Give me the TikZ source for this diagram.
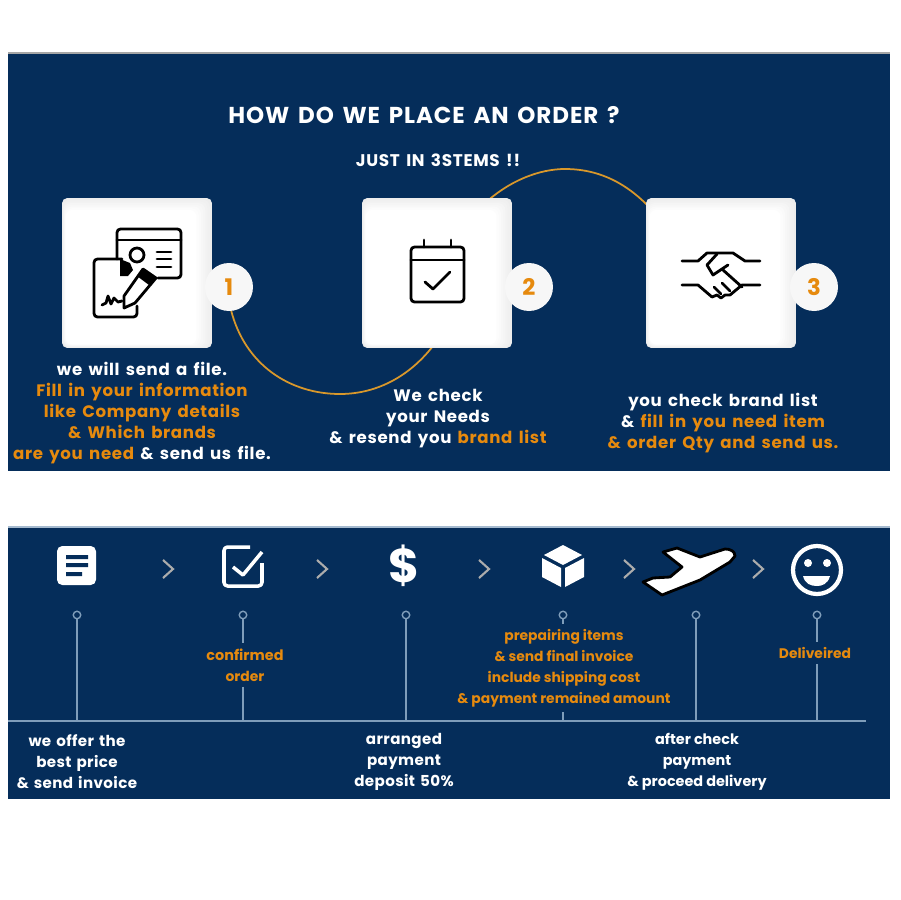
\documentclass[tikz,border=0pt]{standalone}
\usepackage{fontspec}
\setmainfont{Poppins}[LetterSpace=4, WordSpace=1.5]
\newfontfamily\plainfont{Poppins}
\newfontfamily\openfont{Poppins}[LetterSpace=2.5, WordSpace=1.4]
\usepackage{tikz}
\usetikzlibrary{arrows.meta, positioning, calc}
\definecolor{panelblue}{HTML}{052D5A}
\definecolor{ordergold}{HTML}{E68A0E}
\definecolor{stemblue}{HTML}{7F9DBA}
\definecolor{arcgold}{HTML}{D9982B}
\newcommand{\og}[1]{\textcolor{ordergold}{#1}}

\begin{document}
\begin{tikzpicture}[x=0.02cm, y=-0.02cm,
    panel/.style={fill=panelblue},
    card/.style={draw=none, fill=black!7, rounded corners=3pt, minimum width=3cm, minimum height=3cm, inner sep=0pt},
    badge/.style={circle, fill=black!3, minimum size=0.96cm, inner sep=0pt, text=ordergold, font=\plainfont\fontsize{13}{13}\selectfont\bfseries},
    arcline/.style={arcgold, line width=1pt},
    icon/.style={black, line width=1.6pt, line cap=round, line join=round},
    wicon/.style={white, line width=2pt, line join=round},
    says/.style={align=center, text=white, inner sep=0pt, font=\fontsize{9.45}{11.95}\selectfont\bfseries},
    tight says/.style={align=center, text=ordergold, inner sep=0pt, outer sep=3pt, font=\plainfont\fontsize{7.9}{11.95}\selectfont\bfseries},
    open says/.style={align=center, text=white, inner sep=0pt, font=\openfont\fontsize{8.6}{11.95}\selectfont\bfseries},
    pin/.style={circle, draw=stemblue, line width=0.8pt, minimum size=0.15cm, inner sep=0pt},
    stem/.style={stemblue, line width=0.8pt},
    chevron/.style={draw=gray!65, line width=1.2pt, fill=none}]
    \useasboundingbox (0,0) rectangle (900,900);
    \fill[white] (0,0) rectangle (900,900);

    % panels
    \fill[panel] (8,53) rectangle (890,471);
    \fill[panel] (8,527) rectangle (890,799);
    \draw[gray!70, line width=0.8pt] (8,53) -- (890,53);
    \draw[stemblue!70, line width=0.6pt] (8,527) -- (890,527);

    \node[text=white, font=\fontsize{13.1}{14}\selectfont\bfseries] (title) at (424,115) {HOW DO WE PLACE AN ORDER ?};
    \node[text=white, font=\fontsize{9.6}{12}\selectfont\bfseries] (subtitle) at (438,160) {JUST IN 3STEMS !!};

    % arcs go under the cards
    \coordinate (arcstart) at (231,310);
    \coordinate (arcmid) at (436,342);
    \coordinate (archop) at (484,204);
    \coordinate (arcend) at (652,210);
    \draw[arcline] (arcstart) .. controls (245,365) and (290,394) .. (340,394) .. controls (378,394) and (412,375) .. (arcmid);
    \draw[arcline] (archop) .. controls (510,180) and (540,169) .. (565,169) .. controls (600,169) and (628,184) .. (arcend);

    % cards
    \foreach \name/\cx in {cardone/137, cardtwo/437, cardthree/721} {
        \node[card] (\name) at (\cx,273) {};
        \foreach \i/\g in {1/6,2/5,3/4,4/3,5/2,6/1,7/0}
            \fill[black!\g, rounded corners=4pt] (\cx-75+0.5*\i,198+1.7*\i) rectangle (\cx+75-2.2*\i,348-0.5*\i);
    }
    \foreach \name/\cx/\n in {badgeone/229/1, badgetwo/529/2, badgethree/814/3}
        \node[badge] (\name) at (\cx,287) {\n};

    % form icon
    \draw[icon, rounded corners=2pt] (117,259) -- (117,229) -- (181,229) -- (181,278) -- (158,278);
    \draw[icon] (117,240) -- (181,240);
    \draw[icon] (137,255) circle (7);
    \foreach \y in {252,259,267}
        \draw[icon] (157,\y) -- (171,\y);
    \draw[icon, rounded corners=2pt] (137,306) -- (137,317) -- (94,317) -- (94,259) -- (122,259);
    \fill[black] (120,259) -- (130,263) -- (133,270) -- (128,276) -- (120,276) -- cycle;
    \draw[icon, fill=white] (143,269) -- (156,278) -- (135,303) -- (124,308) -- (124,296) -- cycle;
    \fill[black] (143,269) -- (156,278) -- (149,285) -- (137,276) -- cycle;
    \draw[icon] (102,305) -- (106,303) -- (108,296) -- (111,304) -- (114,298) -- (118,302) -- (122,301);

    % calendar icon
    \draw[icon, rounded corners=2pt] (411,247) rectangle (464,302);
    \draw[icon] (411,260) -- (464,260);
    \foreach \x in {424,451}
        \draw[icon] (\x,240) -- (\x,247);
    \draw[icon] (425,282) -- (433,289) -- (450,272);

    % handshake icon
    \draw[icon] (682,261) -- (698,261) -- (707,253) -- (733,253) -- (745,261) -- (760,261);
    \draw[icon] (682,285) -- (698,285) -- (712,297) -- (717,295) -- (721,298) -- (725,295) -- (730,295) -- (742,285) -- (760,285);
    \draw[icon] (717,254) -- (707,265) -- (713,275) -- (728,265);
    \draw[icon] (723,270) -- (742,287);
    \draw[icon] (714,287) -- (721,294);
    \draw[icon] (722,283) -- (730,291);

    % texts of the steps
    \node[says] (stepone) at (142,413) {we will send a file.\\\og{Fill in your information}\\\og{like Company details}\\\og{\& Which brands}\\\og{are you need} \& send us file.};
    \node[says] (steptwo) at (438,419) {We check\\your Needs\\\& resend you \og{brand list}};
    \node[says] (stepthree) at (723,423) {you check brand list\\\& \og{fill in you need item}\\\og{\& order Qty and send us.}};

    % row of icons
    \fill[white, rounded corners=3pt] (57,546) rectangle (96,585);
    \fill[panelblue] (66,555) rectangle (88,559) (66,563) rectangle (88,567) (66,572) rectangle (82,576);

    \draw[wicon, line width=2pt, rounded corners=2pt] (250,547) -- (224,547) -- (224,586) -- (262,586) -- (262,563);
    \draw[wicon, line width=2pt] (233,567) -- (243,575) -- (262,552);

    \node[text=white, font=\plainfont\fontsize{27}{27}\selectfont\bfseries] (dollar) at (404,566) {\$};

    \fill[white] (563,545) -- (582,555) -- (563,565) -- (544,555) -- cycle;
    \fill[white] (542,558) -- (561,568) -- (561,587) -- (542,577) -- cycle;
    \fill[white] (584,558) -- (565,568) -- (565,587) -- (584,577) -- cycle;

    \draw[black, fill=white, line width=1.6pt, line join=round] (735,556) .. controls (735,551) and (730,549) .. (725,549) -- (700,557) -- (677,548) -- (663,552) -- (682,567) -- (670,577) -- (653,578) -- (643,582) -- (662,595) -- (700,580) -- (730,562) -- cycle;

    \draw[wicon, line width=2.4pt] (817,570) circle (24);
    \fill[white] (808,563) circle (4) (827,563) circle (4);
    \fill[white] (803,576) -- (830,576) .. controls (828,584) and (822,586) .. (817,586) .. controls (811,586) and (805,584) .. (803,576) -- cycle;

    \foreach \x in {168,322,484,629,758}
        \draw[chevron] (\x-5,560) -- (\x+5,569) -- (\x-5,578);

    % timeline
    \coordinate (linestart) at (8,721);
    \coordinate (lineend) at (866,721);
    \draw[stem] (linestart) -- (lineend);
    \foreach \name/\x in {pinone/77, pintwo/243, pinthree/406, pinfour/563, pinfive/696, pinsix/817} {
        \node[pin] (\name) at (\x,615) {};
        \coordinate (\name foot) at (\x,721);
    }
    \draw[stem] (pinone) -- (pinonefoot);
    \draw[stem] (pinthree) -- (pinthreefoot);
    \draw[stem] (pinfive) -- (pinfivefoot);
    \node[tight says] (confirmed) at (245,665) {\fontsize{8.2}{11.95}\selectfont confirmed\\order};
    \node[tight says] (preparing) at (564,668) {prepairing items\\\& send final invoice\\include shipping cost\\\& payment remained amount};
    \node[tight says] (delivered) at (815,653) {Deliveired};
    \draw[stem] (pintwo) -- (pintwo |- confirmed.north);
    \draw[stem] (pintwo |- confirmed.south) -- (pintwofoot);
    \draw[stem] (pinfour) -- (pinfour |- preparing.north);
    \draw[stem] (pinfour |- preparing.south) -- (pinfourfoot);
    \draw[stem] (pinsix) -- (pinsix |- delivered.north);
    \draw[stem] (pinsix |- delivered.south) -- (pinsixfoot);

    \node[open says] (offer) at (77,762) {we offer the\\best price\\\& send invoice};
    \node[open says] (deposit) at (404,762) {arranged\\payment\\deposit 50\%};
    \node[open says, font=\plainfont\fontsize{8.2}{11.95}\selectfont\bfseries] (delivery) at (697,762) {after check\\payment\\\& proceed delivery};
\end{tikzpicture}
\end{document}
